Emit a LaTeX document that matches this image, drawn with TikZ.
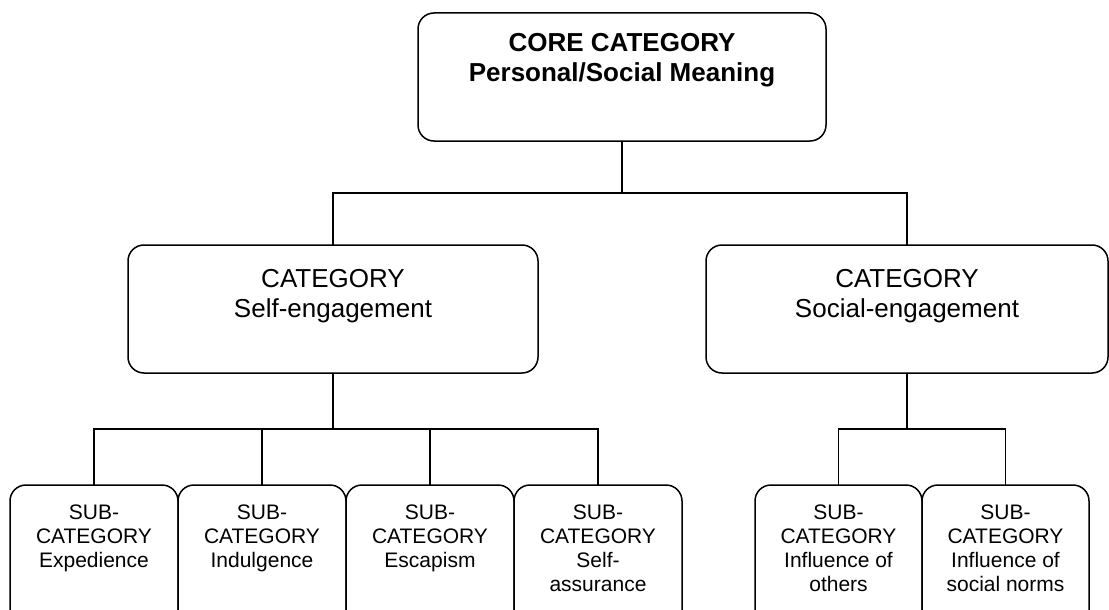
\documentclass[tikz,border=0pt]{standalone}
\usepackage{fontspec}
\setmainfont{Liberation Sans}
\usetikzlibrary{calc}
\begin{document}
\begin{tikzpicture}[x=1pt,y=-1pt,
  box/.style={draw, line width=1.5pt, rounded corners=16pt, inner sep=0pt, outer sep=0pt},
  conn/.style={line width=1.5pt},
  bigtxt/.style={anchor=north, align=center, inner sep=0pt, font=\fontsize{26}{30}\selectfont},
  subtxt/.style={anchor=north, align=center, inner sep=0pt, font=\fontsize{21}{24}\selectfont}]
\clip (0,0) rectangle (1109,610);
% boxes
\node[box, minimum width=408pt, minimum height=128pt] (core) at (622,77) {};
\node[box, minimum width=410pt, minimum height=128pt] (lc) at (333,309) {};
\node[box, minimum width=402pt, minimum height=128pt] (rc) at (907,309) {};
\node[box, minimum width=168pt, minimum height=155pt] (s1) at (94,562.5) {};
\node[box, minimum width=168pt, minimum height=155pt] (s2) at (262,562.5) {};
\node[box, minimum width=168pt, minimum height=155pt] (s3) at (430,562.5) {};
\node[box, minimum width=168pt, minimum height=155pt] (s4) at (598,562.5) {};
\node[box, minimum width=167pt, minimum height=155pt] (s5) at (838.5,562.5) {};
\node[box, minimum width=167pt, minimum height=155pt] (s6) at (1005.5,562.5) {};
% texts
\node[bigtxt, font=\fontsize{26}{30}\selectfont\bfseries] (coret) at ($(core.north)+(0,20)$) {CORE CATEGORY\\Personal/Social Meaning};
\node[bigtxt] (lct) at ($(lc.north)+(0,24)$) {CATEGORY\\Self-engagement};
\node[bigtxt] (rct) at ($(rc.north)+(0,24)$) {CATEGORY\\Social-engagement};
\node[subtxt] (s1t) at ($(s1.north)+(0,20)$) {SUB-\\CATEGORY\\Expedience};
\node[subtxt] (s2t) at ($(s2.north)+(0,20)$) {SUB-\\CATEGORY\\Indulgence};
\node[subtxt] (s3t) at ($(s3.north)+(0,20)$) {SUB-\\CATEGORY\\Escapism};
\node[subtxt] (s4t) at ($(s4.north)+(0,20)$) {SUB-\\CATEGORY\\Self-\\assurance};
\node[subtxt] (s5t) at ($(s5.north)+(0,20)$) {SUB-\\CATEGORY\\Influence of\\others};
\node[subtxt] (s6t) at ($(s6.north)+(0,20)$) {SUB-\\CATEGORY\\Influence of\\social norms};
% connectors
\coordinate (j0) at (622,193);
\coordinate (j1) at (333,429);
\coordinate (j2) at (907,429);
\draw[conn] (core.south) -- (core.south |- j0);
\draw[conn] (lc.north) -- (lc.north |- j0) -- (rc.north |- j0) -- (rc.north);
\draw[conn] (lc.south) -- (lc.south |- j1);
\draw[conn] (s1.north) -- (s1.north |- j1) -- (s4.north |- j1) -- (s4.north);
\draw[conn] (s2.north) -- (s2.north |- j1);
\draw[conn] (s3.north) -- (s3.north |- j1);
\draw[conn] (rc.south) -- (rc.south |- j2);
\draw[conn] (s5.north) -- (s5.north |- j2) -- (s6.north |- j2) -- (s6.north);
\end{tikzpicture}
\end{document}
